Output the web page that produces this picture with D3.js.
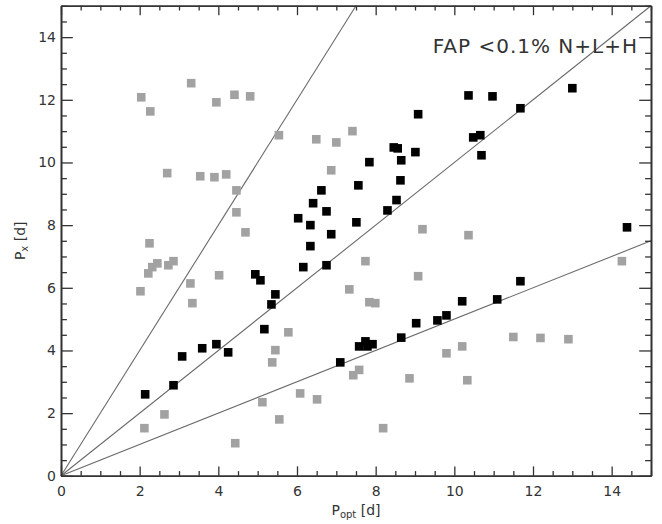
<!DOCTYPE html>
<html>
<head>
<meta charset="utf-8">
<script src="https://cdn.jsdelivr.net/npm/d3@7"></script>
<style>
  body { margin: 0; background: #fff; }
  svg { display: block; }
  text { font-family: "DejaVu Sans", sans-serif; fill: #333; }
</style>
</head>
<body>
<svg width="662" height="524"></svg>
<script>
// ************** Data *****************

// gray squares (all detections)
const grayX = [2.04, 2.27, 3.31, 3.95, 4.41, 4.81, 5.54, 6.49, 7.00, 7.41,
  2.70, 3.54, 3.90, 4.20, 4.46, 4.46, 4.69, 6.87, 2.25, 2.45,
  2.32, 2.22, 2.86, 2.73, 2.02, 3.29, 3.34, 4.02, 5.78, 5.45,
  5.37, 5.12, 6.08, 6.51, 5.55, 4.43, 2.63, 2.12, 7.43, 7.58,
  7.33, 9.19, 10.36, 7.74, 9.08, 7.84, 7.99, 11.50, 12.19, 12.90,
  14.26, 10.20, 9.80, 8.86, 10.33, 8.19];
const grayY = [12.08, 11.63, 12.53, 11.92, 12.16, 12.11, 10.87, 10.74, 10.64, 11.00,
  9.66, 9.56, 9.53, 9.62, 9.11, 8.41, 7.77, 9.75, 7.42, 6.78,
  6.66, 6.46, 6.85, 6.72, 5.89, 6.14, 5.51, 6.40, 4.58, 4.01,
  3.62, 2.35, 2.63, 2.44, 1.80, 1.04, 1.96, 1.52, 3.21, 3.38,
  5.95, 7.87, 7.68, 6.85, 6.37, 5.54, 5.51, 4.43, 4.40, 4.36,
  6.85, 4.13, 3.91, 3.11, 3.05, 1.52];

// black squares (FAP < 0.1%)
const blackX = [2.14, 2.86, 3.08, 3.59, 3.95, 4.25, 5.17, 5.35, 7.10, 7.58,
  7.74, 7.79, 7.92, 4.94, 5.07, 5.45, 6.03, 6.34, 6.41, 6.62,
  6.75, 6.34, 6.87, 6.16, 6.75, 7.56, 7.51, 10.36, 10.97, 13.00,
  11.68, 9.08, 10.48, 10.66, 10.69, 8.46, 8.56, 9.01, 7.84, 8.65,
  8.63, 8.53, 8.30, 11.68, 11.09, 10.20, 9.80, 9.57, 9.03, 8.65,
  14.39];
const blackY = [2.60, 2.89, 3.81, 4.07, 4.20, 3.94, 4.68, 5.47, 3.62, 4.13,
  4.29, 4.13, 4.20, 6.43, 6.24, 5.79, 8.22, 8.00, 8.70, 9.11,
  8.44, 7.33, 7.71, 6.66, 6.72, 9.27, 8.09, 12.14, 12.11, 12.37,
  11.73, 11.54, 10.80, 10.87, 10.23, 10.48, 10.45, 10.33, 10.01, 10.07,
  9.43, 8.80, 8.47, 6.21, 5.63, 5.57, 5.12, 4.96, 4.87, 4.41,
  7.93];

// reference lines Px = k * Popt
const slopes = [2, 1, 0.5];

const majorTicks = [0, 2, 4, 6, 8, 10, 12, 14];
const minorTicks = d3.range(0, 15.01, 0.5).filter(d => d % 2 !== 0);

// *************** Graph Setup *****************

let svg = d3.select("svg");

const plotL = 61, plotR = 651, plotT = 5.8, plotB = 475.8;

let xScale = d3.scaleLinear().domain([0, 15]).range([plotL, plotR]);
let yScale = d3.scaleLinear().domain([0, 15]).range([plotB, plotT]);

const xTick = 9.4, yTick = 11.8;   // IDL style: tick length ~2% of the plot

// reference lines
svg.append("g")
  .selectAll("line")
  .data(slopes)
  .enter().append("line")
  .attr("x1", xScale(0))
  .attr("y1", yScale(0))
  .attr("x2", d => xScale(Math.min(15, 15 / d)))
  .attr("y2", d => yScale(Math.min(15, 15 * d)))
  .attr("stroke", "#6a6a6a")
  .attr("stroke-width", 1.1);

// squares
const sz = 8.6;
svg.append("g")
  .selectAll("rect")
  .data(grayX.map((x, i) => [x, grayY[i]]))
  .enter().append("rect")
  .attr("x", d => xScale(d[0]) - sz / 2)
  .attr("y", d => yScale(d[1]) - sz / 2)
  .attr("width", sz)
  .attr("height", sz)
  .attr("fill", "#a2a2a2");

svg.append("g")
  .selectAll("rect")
  .data(blackX.map((x, i) => [x, blackY[i]]))
  .enter().append("rect")
  .attr("x", d => xScale(d[0]) - sz / 2)
  .attr("y", d => yScale(d[1]) - sz / 2)
  .attr("width", sz)
  .attr("height", sz)
  .attr("fill", "#000");

// axes, ticks pointing inwards
function styleAxis(g) {
  g.selectAll("path.domain").attr("stroke", "#333").attr("stroke-width", 1.6);
  g.selectAll(".tick line").attr("stroke", "#333").attr("stroke-width", 1.3);
  g.selectAll("text").attr("font-size", 14).attr("fill", "#333")
    .attr("font-family", "DejaVu Sans, sans-serif");
}

svg.append("g")
  .attr("transform", "translate(0," + plotB + ")")
  .call(d3.axisBottom(xScale).tickValues(majorTicks).tickSize(-xTick).tickSizeOuter(0).tickPadding(10.5))
  .call(styleAxis);
svg.append("g")
  .attr("transform", "translate(0," + plotB + ")")
  .call(d3.axisBottom(xScale).tickValues(minorTicks).tickSize(-xTick / 2).tickSizeOuter(0).tickFormat(""))
  .call(styleAxis);

svg.append("g")
  .attr("transform", "translate(0," + plotT + ")")
  .call(d3.axisTop(xScale).tickValues(majorTicks).tickSize(-xTick).tickSizeOuter(0).tickFormat(""))
  .call(styleAxis);
svg.append("g")
  .attr("transform", "translate(0," + plotT + ")")
  .call(d3.axisTop(xScale).tickValues(minorTicks).tickSize(-xTick / 2).tickSizeOuter(0).tickFormat(""))
  .call(styleAxis);

svg.append("g")
  .attr("transform", "translate(" + plotL + ",0)")
  .call(d3.axisLeft(yScale).tickValues(majorTicks).tickSize(-yTick).tickSizeOuter(0).tickPadding(5))
  .call(styleAxis);
svg.append("g")
  .attr("transform", "translate(" + plotL + ",0)")
  .call(d3.axisLeft(yScale).tickValues(minorTicks).tickSize(-yTick / 2).tickSizeOuter(0).tickFormat(""))
  .call(styleAxis);

svg.append("g")
  .attr("transform", "translate(" + plotR + ",0)")
  .call(d3.axisRight(yScale).tickValues(majorTicks).tickSize(-yTick).tickSizeOuter(0).tickFormat(""))
  .call(styleAxis);
svg.append("g")
  .attr("transform", "translate(" + plotR + ",0)")
  .call(d3.axisRight(yScale).tickValues(minorTicks).tickSize(-yTick / 2).tickSizeOuter(0).tickFormat(""))
  .call(styleAxis);

// axis titles
let xt = svg.append("text")
  .attr("x", (plotL + plotR) / 2)
  .attr("y", 515)
  .attr("text-anchor", "middle")
  .attr("font-size", 14);
xt.append("tspan").text("P");
xt.append("tspan").attr("font-size", 10).attr("dy", 3).text("opt");
xt.append("tspan").attr("dy", -3).text(" [d]");

let yt = svg.append("text")
  .attr("transform", "translate(25," + ((plotT + plotB) / 2) + ") rotate(-90)")
  .attr("text-anchor", "middle")
  .attr("font-size", 14);
yt.append("tspan").text("P");
yt.append("tspan").attr("font-size", 10).attr("dy", 3).text("x");
yt.append("tspan").attr("dy", -3).text(" [d]");

// label
svg.append("text")
  .attr("x", 638)
  .attr("y", 53)
  .attr("text-anchor", "end")
  .attr("font-size", 20)
  .attr("letter-spacing", 1)
  .attr("fill", "#555")
  .text("FAP <0.1% N+L+H");
</script>
</body>
</html>
